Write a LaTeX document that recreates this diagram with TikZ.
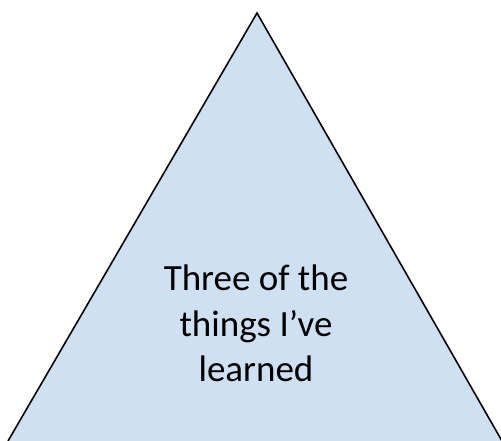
\documentclass[tikz,border=0pt]{standalone}
\usepackage{fontspec}
\setmainfont{Carlito}
\definecolor{tri}{HTML}{CFE0F2}
\begin{document}
\begin{tikzpicture}[x=1pt,y=1pt]
\useasboundingbox (0,0) rectangle (501,441);
\coordinate (apex) at (257,428);
\coordinate (bl) at (8,0);
\coordinate (br) at (502,0);
\fill[tri] (apex) -- (br) -- (bl) -- cycle;
\draw[line width=1.6pt, line join=miter] (bl) -- (apex) -- (br);
\node[font=\fontsize{37}{45.5}\selectfont, align=center, anchor=base, inner sep=0pt] (t) at (256,59) {Three of the\\things I’ve\\learned};
\end{tikzpicture}
\end{document}
